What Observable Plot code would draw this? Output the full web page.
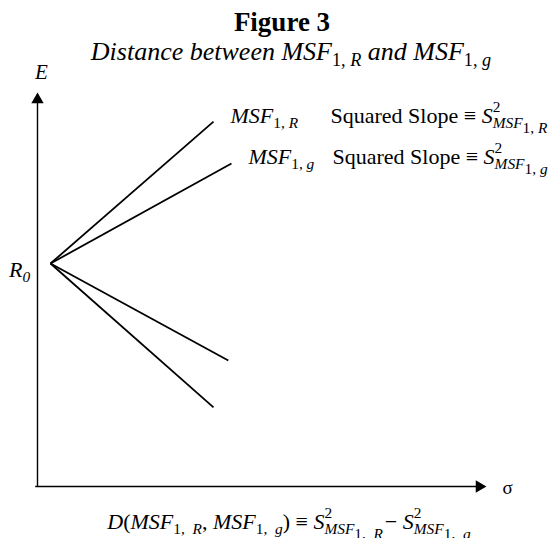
<!DOCTYPE html>
<html>
<head>
<meta charset="utf-8">
<script src="https://cdn.jsdelivr.net/npm/d3@7"></script>
<script src="https://cdn.jsdelivr.net/npm/@observablehq/plot@0.6"></script>
<style>
  body { margin: 0; background: #fff; color: #000; font-family: "Liberation Serif", "Times New Roman", serif; }
  #wrap { width: 556px; }
  .title { text-align: center; font-weight: bold; font-size: 27px; line-height: 30px; height: 30px; padding-top: 7px; padding-left: 8px; }
  .subtitle { text-align: center; font-style: italic; font-size: 26px; line-height: 30px; height: 30px; padding-left: 26px; }
  #chart { height: 439px; }
  .caption { text-align: center; font-size: 22px; line-height: 32px; padding-left: 22px; }
  .rich sub, .rich sup { font-size: 70%; line-height: 0; position: relative; vertical-align: baseline; }
  .rich sub { top: 0.35em; }
  .rich sup { top: -0.7em; }
  .rich sub sub { font-size: 100%; top: 0.3em; }
  .rich sub[back] { margin-left: -0.5em; }
  .upright { font-style: normal; }
  svg text { font-family: "Liberation Serif", "Times New Roman", serif; }
</style>
</head>
<body>
<div id="wrap">
  <div class="title">Figure 3</div>
  <div class="subtitle rich" id="subtitle"></div>
  <div id="chart"></div>
  <div class="caption rich" id="caption"></div>
</div>
<script>
// Heading and caption texts (light markup: <i> italic, <sub>/<sup> scripts)
const subtitleText = "Distance between MSF<sub><span class='upright'>1,</span> R</sub> and MSF<sub><span class='upright'>1,</span> g</sub>";
const captionText = "<i>D</i>(<i>MSF</i><sub>1,&#8194;<i>R</i></sub>, <i>MSF</i><sub>1,&#8194;<i>g</i></sub>) ≡ <i>S</i><sup>2</sup><sub back='1'><i>MSF</i><sub>1,&#8194;<i>R</i></sub></sub>&#8202;− <i>S</i><sup>2</sup><sub back='1'><i>MSF</i><sub>1,&#8194;<i>g</i></sub></sub>";

// Common starting point R0 of all four lines (σ, E)
const originSigma = 0.29;
const originE = 5.66;

// End points of the four lines
const curveName = ["R", "g", "g", "R"];
const endSigma = [3.92, 4.32, 4.25, 3.92];
const endE = [9.26, 8.20, 3.20, 2.01];

// Labels next to the two upper lines (index into the arrays above)
const labelLine = [0, 1];
const curveLabel = [
  "<i>MSF</i><sub>1, <i>R</i></sub>",
  "<i>MSF</i><sub>1, <i>g</i></sub>"
];
const slopeLabel = [
  "Squared Slope ≡ <i>S</i><sup>2</sup><sub back='1'><i>MSF</i><sub>1, <i>R</i></sub></sub>",
  "Squared Slope ≡ <i>S</i><sup>2</sup><sub back='1'><i>MSF</i><sub>1, <i>g</i></sub></sub>"
];

// Axis names
const axisMax = 10;
const yAxisName = "<i>E</i>";
const originName = "<i>R</i><sub><i>0</i></sub>";
const xAxisName = "σ";

document.getElementById("subtitle").innerHTML = subtitleText;
document.getElementById("caption").innerHTML = captionText;

const idx = d3.range(endSigma.length);
const slopeDx = [117, 101];

const chart = Plot.plot({
  width: 556,
  height: 439,
  marginTop: 25,
  marginBottom: 20,
  marginLeft: 37,
  marginRight: 70,
  x: {domain: [0, axisMax], axis: null},
  y: {domain: [0, axisMax], axis: null},
  style: {background: "white", color: "black", overflow: "visible", fontFamily: "Liberation Serif, serif"},
  marks: [
    // axes with filled arrow heads
    Plot.ruleY([0], {x1: -0.04, x2: axisMax * 0.985, stroke: "black", strokeWidth: 1.4}),
    Plot.ruleX([0], {y1: 0, y2: axisMax * 0.985, stroke: "black", strokeWidth: 1.4}),
    Plot.dot([axisMax], {x: d => d, y: 0, symbol: "triangle", r: 4.6, rotate: 90, dx: -7.2, fill: "black", stroke: "none"}),
    Plot.dot([axisMax], {x: 0, y: d => d, symbol: "triangle", r: 4.6, dy: 7.2, fill: "black", stroke: "none"}),
    // the four lines from R0
    Plot.link(idx, {
      x1: () => originSigma, y1: () => originE,
      x2: i => endSigma[i], y2: i => endE[i],
      stroke: "black", strokeWidth: 1.8
    }),
    // axis names
    Plot.text([yAxisName], {x: 0, y: axisMax, text: d => d, dx: 4, dy: -20, fontSize: 21, textAnchor: "middle"}),
    Plot.text([originName], {x: 0, y: originE, text: d => d, dx: -18, dy: 6, fontSize: 22, textAnchor: "middle"}),
    Plot.text([xAxisName], {x: axisMax, y: 0, text: d => d, dx: 21, dy: 1, fontSize: 19, fontFamily: "DejaVu Sans, sans-serif", textAnchor: "middle"}),
    // line labels
    Plot.text(labelLine, {
      x: i => endSigma[i], y: i => endE[i],
      text: (i, k) => curveLabel[k], dx: 17, dy: -6, fontSize: 22, textAnchor: "start"
    }),
    ...labelLine.map((i, k) => Plot.text([i], {
      x: i => endSigma[i], y: i => endE[i],
      text: () => slopeLabel[k], dx: slopeDx[k], dy: -6, fontSize: 22, textAnchor: "start"
    }))
  ]
});
document.getElementById("chart").appendChild(chart);

// Turn the markup inside text marks into styled tspans
const NS = "http://www.w3.org/2000/svg";
function build(node, parent, depth) {
  for (const child of node.childNodes) {
    if (child.nodeType === 3) {
      parent.appendChild(document.createTextNode(child.nodeValue));
    } else if (child.nodeType === 1) {
      const t = document.createElementNS(NS, "tspan");
      const tag = child.nodeName;
      let d = depth;
      if (tag === "i") t.setAttribute("font-style", "italic");
      if (tag === "sub") {
        if (depth === 0) t.setAttribute("font-size", "70%");
        t.setAttribute("baseline-shift", depth === 0 ? "-0.35em" : "-0.3em");
        if (child.getAttribute("back")) t.setAttribute("dx", "-0.5em");
        d = depth + 1;
      }
      if (tag === "sup") {
        t.setAttribute("font-size", "70%");
        t.setAttribute("baseline-shift", "0.7em");
        d = depth + 1;
      }
      build(child, t, d);
      parent.appendChild(t);
    }
  }
}
d3.select(chart).selectAll("text").each(function() {
  if (!this.textContent.includes("<")) return;
  const doc = new DOMParser().parseFromString("<r>" + this.textContent + "</r>", "application/xml");
  this.textContent = "";
  build(doc.documentElement, this, 0);
});
</script>
</body>
</html>
